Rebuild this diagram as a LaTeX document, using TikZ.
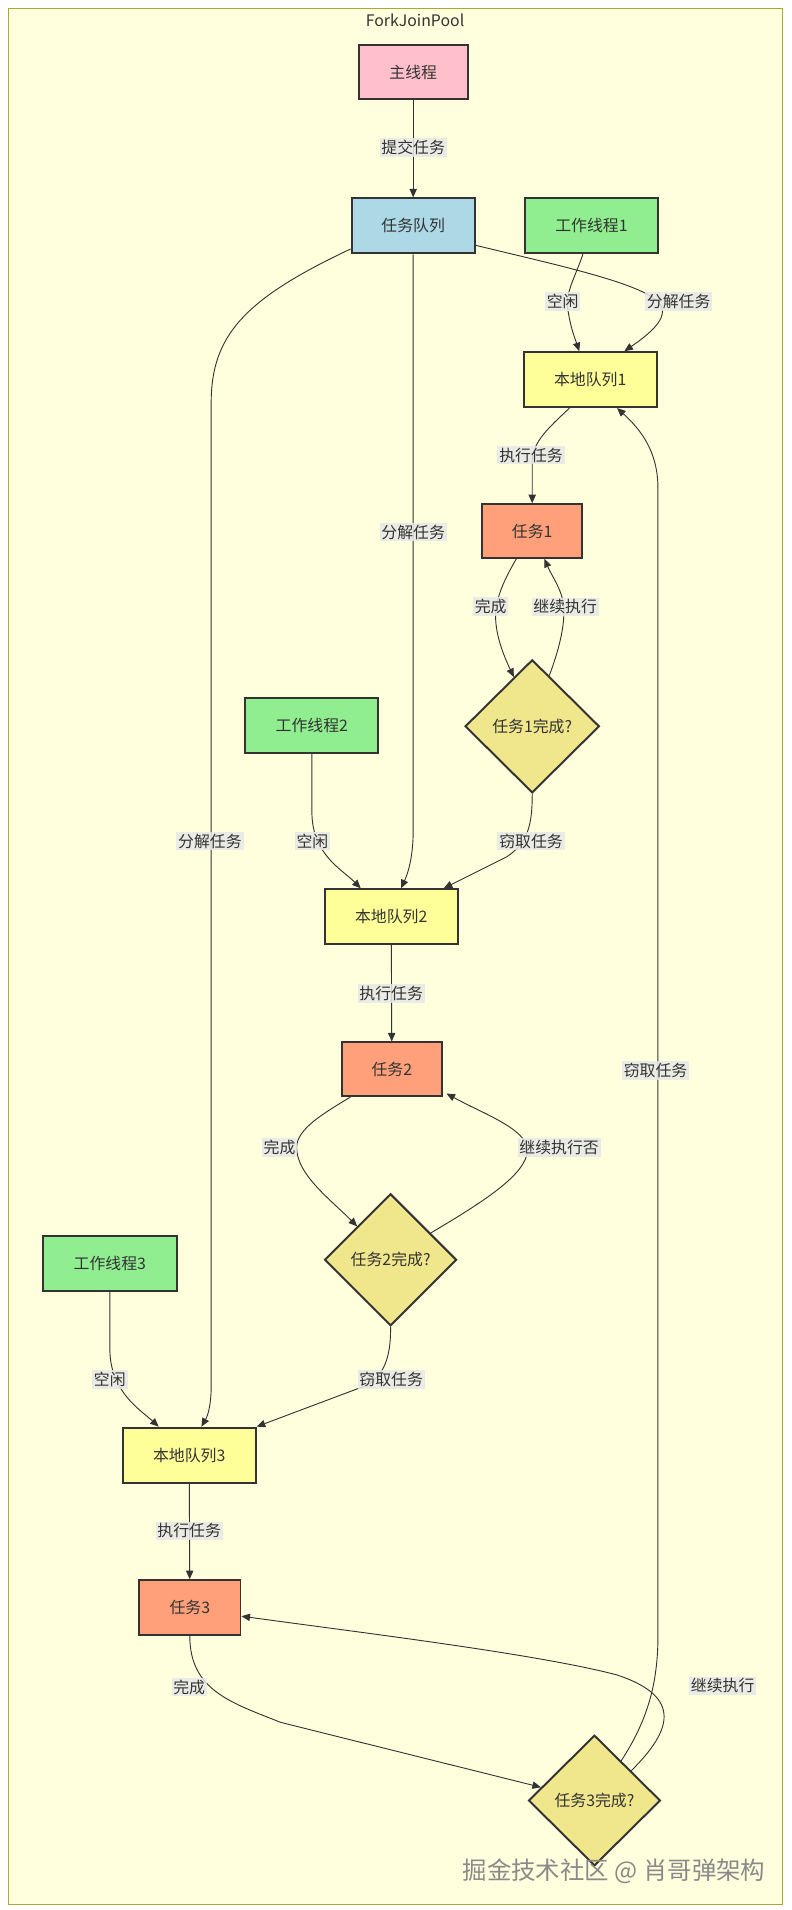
\documentclass[tikz,border=0pt]{standalone}
\usepackage{fontspec}
\setmainfont{Noto Sans CJK SC}
\usetikzlibrary{shapes.geometric,arrows.meta,calc}
\definecolor{framefill}{HTML}{FFFFDE}
\definecolor{framedraw}{HTML}{AAAA33}
\definecolor{ink}{HTML}{333333}
\definecolor{cmain}{HTML}{FFC0CB}
\definecolor{cqueue}{HTML}{ADD8E6}
\definecolor{cworker}{HTML}{90EE90}
\definecolor{clocal}{HTML}{FFFF99}
\definecolor{ctask}{HTML}{FFA07A}
\definecolor{cdec}{HTML}{F0E68C}
\definecolor{clabel}{HTML}{E8E8E8}
\definecolor{cwm}{HTML}{8A8A8A}
\begin{document}
\begin{tikzpicture}[x=1pt,y=-1pt,
  txt/.style={font=\fontsize{13}{15}\selectfont, text=ink},
  boxnode/.style={txt, draw=ink, line width=1.6pt, rectangle, inner sep=0pt, minimum height=44pt},
  decnode/.style={txt, draw=ink, fill=cdec, line width=1.6pt, diamond, inner sep=0pt, minimum width=108pt, minimum height=108pt},
  lbl/.style={txt, fill=clabel, fill opacity=0.85, text opacity=1, inner sep=1.5pt},
  arr/.style={draw=ink, line width=0.75pt, -{Triangle[length=7pt,width=6pt]}}
]
\useasboundingbox (0,0) rectangle (648,1564.7);
\fill[white] (0,0) rectangle (648,1564.7);
\draw[framedraw, fill=framefill, line width=1pt] (7,7) rectangle (641,1560);
\node[txt] (title) at (340,17) {ForkJoinPool};

% nodes
\node[boxnode, fill=cmain, minimum width=89pt] (main) at (338.5,59) {主线程};
\node[boxnode, fill=cqueue, minimum width=101pt, minimum height=45pt] (queue) at (338.5,185) {任务队列};
\node[boxnode, fill=cworker, minimum width=109pt, minimum height=45pt] (w1) at (484.5,185) {工作线程1};
\node[boxnode, fill=clocal, minimum width=109pt, minimum height=45pt] (lq1) at (483.5,311) {本地队列1};
\node[boxnode, fill=ctask, minimum width=82pt] (t1) at (436,435) {任务1};
\node[decnode, minimum width=110pt, minimum height=109pt] (d1) at (436,595) {任务1完成?};
\node[boxnode, fill=cworker, minimum width=109pt, minimum height=45pt] (w2) at (255.5,594.5) {工作线程2};
\node[boxnode, fill=clocal, minimum width=109pt, minimum height=45pt] (lq2) at (320.5,751) {本地队列2};
\node[boxnode, fill=ctask, minimum width=82pt] (t2) at (321,876) {任务2};
\node[decnode] (d2) at (320,1032) {任务2完成?};
\node[boxnode, fill=cworker, minimum width=110pt, minimum height=45pt] (w3) at (90,1035) {工作线程3};
\node[boxnode, fill=clocal, minimum width=109pt, minimum height=45pt] (lq3) at (155,1192) {本地队列3};
\node[boxnode, fill=ctask, minimum width=83pt, minimum height=45pt] (t3) at (155.5,1317) {任务3};
\node[decnode, minimum height=107pt] (d3) at (487,1475) {任务3完成?};

% edges
\draw[arr] (main) -- (queue);
\draw[arr] ($(queue.east)+(0,16)$) .. controls (460,218) and (525,232) .. (540,248) .. controls (550,260) and (530,275) .. ($(lq1.north)+(28,0)$);
\draw[arr] ($(w1.south)+(-7,0)$) .. controls (472,225) and (463,240) .. (465,252) .. controls (467,268) and (472,280) .. ($(lq1.north)+(-9,0)$);
\draw[arr] ($(lq1.south)+(-17,0)$) .. controls (450,350) and (436,362) .. (436,378) -- (t1.north);
\draw[arr] ($(t1.south)+(-13,0)$) .. controls (413,475) and (406,490) .. (406,505) .. controls (406,522) and (414,540) .. ($(d1.north)!0.27!(d1.west)$);
\draw[arr] ($(d1.north)!0.25!(d1.east)$) .. controls (458,532) and (462,515) .. (462,500) .. controls (462,485) and (452,472) .. ($(t1.south)+(10,0)$);
\draw[arr] (queue.south) -- (338.5,680) .. controls (338.5,705) and (333,718) .. ($(lq2.north)+(8,0)$);
\draw[arr] (w2.south) -- (255.5,665) .. controls (255.5,700) and (280,712) .. ($(lq2.north)+(-25,0)$);
\draw[arr] (d1.south) .. controls (436,675) and (433,690) .. (415,702) -- ($(lq2.north)+(43,0)$);
\draw[arr] (lq2) -- (t2);
\draw[arr] ($(t2.south)+(-34,0)$) .. controls (265,912) and (243,925) .. (243,940) .. controls (243,962) and (270,982) .. ($(d2.north)!0.5!(d2.west)$);
\draw[arr] ($(d2.north)!0.6!(d2.east)$) .. controls (395,985) and (432,962) .. (432,942) .. controls (432,925) and (395,912) .. ($(t2.south east)+(3,-3)$);
\draw[arr] ($(queue.west)+(0,19)$) .. controls (200,245) and (173,275) .. (173,330) -- (173,1135) .. controls (173,1152) and (170,1160) .. ($(lq3.north)+(10,0)$);
\draw[arr] (w3.south) -- (90,1105) .. controls (90,1140) and (115,1155) .. ($(lq3.north)+(-25,0)$);
\draw[arr] (d2.south) .. controls (320,1105) and (318,1125) .. (300,1135) -- (lq3.north east);
\draw[arr] (lq3) -- (t3);
\draw[arr] (t3.south) .. controls (155.5,1385) and (190,1395) .. (230,1411) -- ($(d3.north)!0.8!(d3.west)$);
\draw[arr] ($(d3.north)!0.55!(d3.east)$) .. controls (550,1418) and (560,1390) .. (505,1372) .. controls (440,1355) and (300,1338) .. ($(t3.east)+(0,7)$);
\draw[arr] ($(d3.north)!0.4!(d3.east)$) .. controls (530,1410) and (539,1380) .. (539,1340) -- (539,400) .. controls (539,370) and (525,352) .. ($(lq1.south)+(22,0)$);

% labels
\node[lbl] (l1) at (338.5,121) {提交任务};
\node[lbl] (l2) at (461,247) {空闲};
\node[lbl] (l3) at (556,247) {分解任务};
\node[lbl] (l4) at (435,373) {执行任务};
\node[lbl] (l5) at (402,497) {完成};
\node[lbl] (l6) at (463,497) {继续执行};
\node[lbl] (l7) at (338.5,436) {分解任务};
\node[lbl] (l8) at (256,689) {空闲};
\node[lbl] (l9) at (435,689) {窃取任务};
\node[lbl] (l10) at (172,689) {分解任务};
\node[lbl] (l11) at (320.5,814) {执行任务};
\node[lbl] (l12) at (229,940) {完成};
\node[lbl] (l13) at (458,940) {继续执行否};
\node[lbl] (l14) at (90,1130) {空闲};
\node[lbl] (l15) at (320.5,1130) {窃取任务};
\node[lbl] (l16) at (537,877) {窃取任务};
\node[lbl] (l17) at (155,1254) {执行任务};
\node[lbl] (l18) at (155,1382) {完成};
\node[lbl] (l19) at (592,1381) {继续执行};

% watermark
\node[font=\fontsize{20}{24}\selectfont, text=cwm, inner sep=0pt] (wm) at (503,1533) {掘金技术社区 @ 肖哥弹架构};
\end{tikzpicture}
\end{document}
